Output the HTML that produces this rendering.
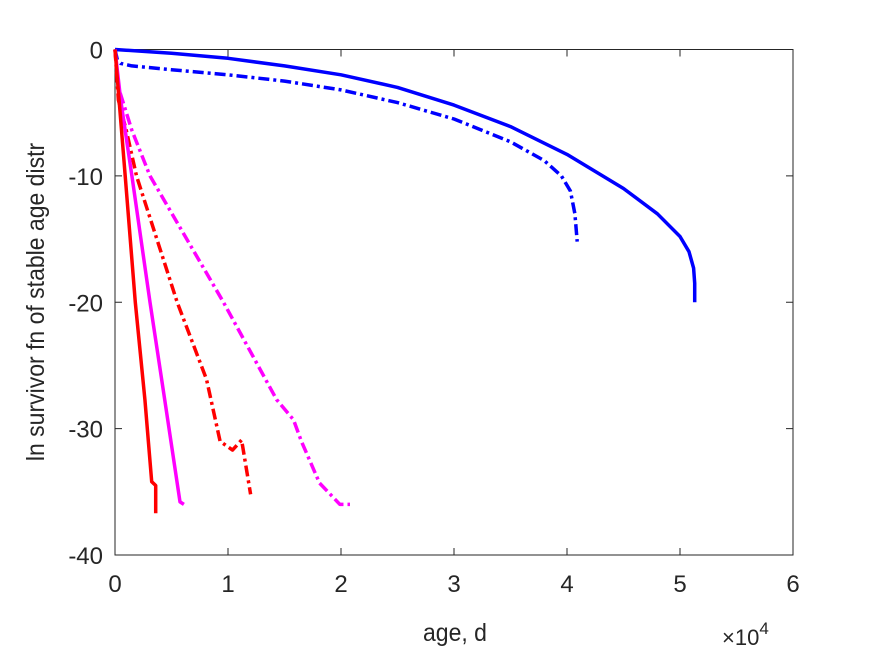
<!DOCTYPE html>
<html><head><meta charset="utf-8"><style>
body{margin:0;background:#fff}
svg{display:block;font-family:"Liberation Sans",sans-serif}
</style></head><body>
<svg id="chart" width="875" height="656" viewBox="0 0 875 656">
<rect width="875" height="656" fill="#fff"/>
<g id="axes"></g>
<g id="series"></g>
<text x="455" y="641" font-size="25" fill="#262626" text-anchor="middle" transform="translate(455,0) scale(0.92,1) translate(-455,0)">age, d</text>
<text x="722" y="645" font-size="22" fill="#262626">×10<tspan dy="-11" font-size="17">4</tspan></text>
<text transform="translate(44,302) rotate(-90) scale(0.92,1)" font-size="25" fill="#262626" text-anchor="middle">ln survivor fn of stable age distr</text>
</svg>
<script>
const xTicks=[0,1,2,3,4,5,6];
const yTicks=[0,-10,-20,-30,-40];
const blueSolidX=[0,0.5,1,1.5,2,2.5,3,3.5,4,4.5,4.8,5.0,5.08,5.12,5.13,5.13];
const blueSolidY=[0,-0.3,-0.7,-1.3,-2.0,-3.0,-4.4,-6.1,-8.3,-11.0,-13.0,-14.8,-16.0,-17.3,-18.5,-20];
const blueDashX=[0,0.02,0.05,0.15,0.5,1,1.5,2,2.5,3,3.5,3.8,3.95,4.03,4.07,4.09];
const blueDashY=[0,-0.8,-1.1,-1.3,-1.6,-2.0,-2.5,-3.2,-4.2,-5.5,-7.3,-8.8,-10.0,-11.2,-13,-15.2];
const redSolidX=[0,0.09,0.18,0.265,0.325,0.36,0.36];
const redSolidY=[0,-10,-20,-27.7,-34.2,-34.5,-36.7];
const magSolidX=[0,0.05,0.15,0.31,0.44,0.575,0.61];
const magSolidY=[0,-4,-10,-20,-27.7,-35.8,-36];
const redDashX=[0,0.03,0.1,0.19,0.55,0.81,0.93,1.04,1.12,1.2];
const redDashY=[0,-4,-6.4,-10,-20,-26.1,-31,-31.7,-30.9,-35.2];
const magDashX=[0,0.03,0.15,0.31,0.96,1.43,1.58,1.65,1.81,1.99,2.08];
const magDashY=[0,-3,-6.4,-10,-20,-27.7,-29.3,-31,-34.3,-36,-36];
const L=115,R=793,T=49.5,B=555;
const sx=v=>L+(v-0)/6*(R-L);
const sy=v=>T+(0-v)/40*(B-T);
const NS="http://www.w3.org/2000/svg";
const axes=document.getElementById('axes');
function mk(tag,attrs,parent){const e=document.createElementNS(NS,tag);for(const k in attrs)e.setAttribute(k,attrs[k]);parent.appendChild(e);return e;}
const box=mk('rect',{x:L,y:T,width:R-L,height:B-T,fill:'none',stroke:'#262626','stroke-width':1},axes);


xTicks.forEach(t=>{
 const x=sx(t);
 const tk=mk('path',{d:`M${x},${B}V${B-7}M${x},${T}V${T+7}`,stroke:'#262626','stroke-width':1},axes);
 
 
 const lb=mk('text',{x:x,y:B+37,'font-size':24,fill:'#262626','text-anchor':'middle'},axes);
 lb.textContent=t;
 
 
});
yTicks.forEach(t=>{
 const y=sy(t);
 const tk=mk('path',{d:`M${L},${y}H${L+7}M${R},${y}H${R-7}`,stroke:'#262626','stroke-width':1},axes);
 
 
 const lb=mk('text',{x:L-12,y:y+9,'font-size':24,fill:'#262626','text-anchor':'end'},axes);
 lb.textContent=t;
 
 
});
const ser=document.getElementById('series');
function line(xs,ys,color,dash,name){
 const d=xs.map((v,i)=>(i?'L':'M')+sx(v).toFixed(1)+','+sy(ys[i]).toFixed(1)).join('');
 const a={d:d,fill:'none',stroke:color,'stroke-width':3.5,'stroke-linejoin':'round'};
 if(dash)a['stroke-dasharray']='11,4,3,4';
 const p=mk('path',a,ser);
 
 
}
line(blueSolidX,blueSolidY,'#0000ff',false,'blue-solid-line');
line(blueDashX,blueDashY,'#0000ff',true,'blue-dashdot-line');
line(magDashX,magDashY,'#ff00ff',true,'magenta-dashdot-line');
line(redDashX,redDashY,'#ff0000',true,'red-dashdot-line');
line(magSolidX,magSolidY,'#ff00ff',false,'magenta-solid-line');
line(redSolidX,redSolidY,'#ff0000',false,'red-solid-line');
</script>
</body></html>
